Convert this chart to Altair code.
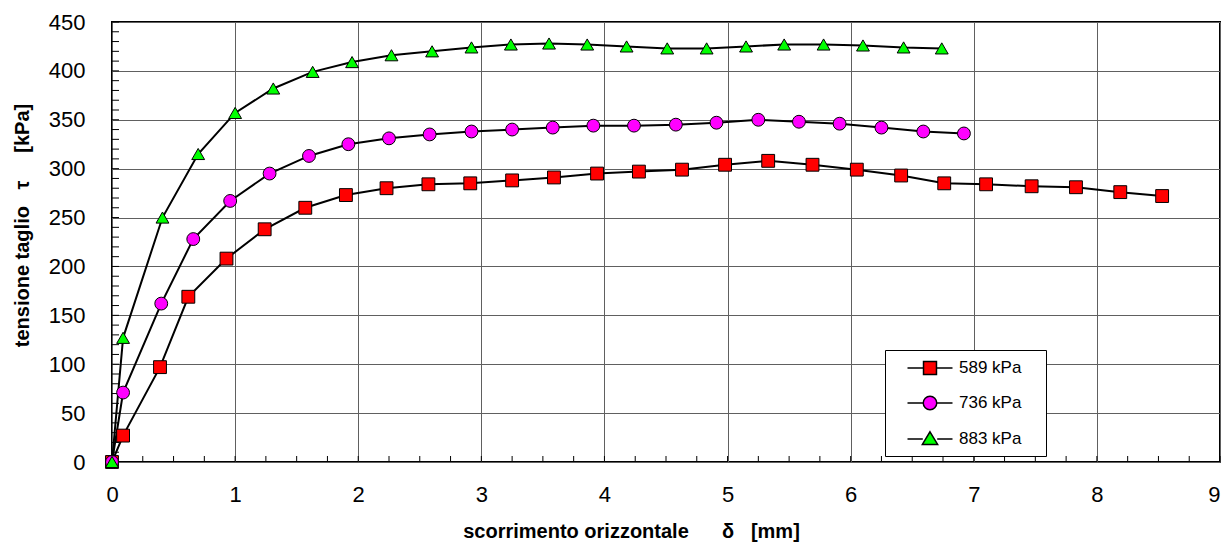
import altair as alt
import pandas as pd

series_names = ["589 kPa", "736 kPa", "883 kPa"]
fill_colors = ["#ff0000", "#ff00ff", "#00ff00"]
marker_shapes = ["square", "circle", "triangle-up"]
outline_colors = ["black", "black", "black"]

x_589 = [0, 0.09, 0.39, 0.62, 0.93, 1.24, 1.57, 1.90, 2.23, 2.57, 2.91, 3.25, 3.59, 3.94,
         4.28, 4.63, 4.98, 5.33, 5.69, 6.05, 6.41, 6.76, 7.10, 7.47, 7.83, 8.19, 8.53]
y_589 = [0, 27, 97, 169, 208, 238, 260, 273, 280, 284, 285, 288, 291, 295,
         297, 299, 304, 308, 304, 299, 293, 285, 284, 282, 281, 276, 272]

x_736 = [0, 0.09, 0.40, 0.66, 0.96, 1.28, 1.60, 1.92, 2.25, 2.58, 2.92, 3.25, 3.58, 3.91,
         4.24, 4.58, 4.91, 5.25, 5.58, 5.91, 6.25, 6.59, 6.92]
y_736 = [0, 71, 162, 228, 267, 295, 313, 325, 331, 335, 338, 340, 342, 344,
         344, 345, 347, 350, 348, 346, 342, 338, 336]

x_883 = [0, 0.09, 0.41, 0.70, 1.00, 1.31, 1.63, 1.95, 2.27, 2.60, 2.92, 3.24, 3.55, 3.86,
         4.18, 4.51, 4.83, 5.15, 5.46, 5.78, 6.10, 6.43, 6.74]
y_883 = [0, 127, 250, 315, 357, 382, 399, 409, 416, 420, 424, 427, 428, 427,
         425, 423, 423, 425, 427, 427, 426, 424, 423]

x_tick_labels = [0, 1, 2, 3, 4, 5, 6, 7, 8, 9]
y_tick_labels = [0, 50, 100, 150, 200, 250, 300, 350, 400, 450]
x_minor_ticks = [0, 0.25, 0.5, 0.75, 1, 1.25, 1.5, 1.75, 2, 2.25, 2.5, 2.75, 3, 3.25, 3.5, 3.75,
                 4, 4.25, 4.5, 4.75, 5, 5.25, 5.5, 5.75, 6, 6.25, 6.5, 6.75, 7, 7.25, 7.5, 7.75,
                 8, 8.25, 8.5, 8.75, 9]
y_minor_ticks = [0, 10, 20, 30, 40, 50, 60, 70, 80, 90, 100, 110, 120, 130, 140, 150, 160, 170,
                 180, 190, 200, 210, 220, 230, 240, 250, 260, 270, 280, 290, 300, 310, 320, 330,
                 340, 350, 360, 370, 380, 390, 400, 410, 420, 430, 440, 450]

NB = "\u00a0"
x_title = "scorrimento" + NB + "orizzontale" + NB * 6 + "δ" + NB * 3 + "[mm]"
y_title = "tensione" + NB + "taglio" + NB * 3 + "τ" + NB * 5 + "[kPa]"

rows = []
for name, xs, ys in [(series_names[0], x_589, y_589),
                     (series_names[1], x_736, y_736),
                     (series_names[2], x_883, y_883)]:
    for i, (a, b) in enumerate(zip(xs, ys)):
        rows.append({"series": name, "x": a, "y": b, "order": i})
df = pd.DataFrame(rows)

FONT = "Liberation Sans"

x_scale = alt.Scale(domain=[0, 9], nice=False, zero=False)
y_scale = alt.Scale(domain=[0, 450], nice=False)

X = alt.X("x:Q", scale=x_scale,
          axis=alt.Axis(values=x_tick_labels, title=x_title,
                        grid=True, ticks=False, domain=False, labelPadding=22,
                        labelFlush=False,
                        labelAlign=alt.condition("datum.value >= 9", alt.value("right"), alt.value("center")),
                        titlePadding=16, titleX=519, format="d"))
Y = alt.Y("y:Q", scale=y_scale,
          axis=alt.Axis(values=y_tick_labels, title=y_title,
                        grid=True, ticks=False, domain=False, labelPadding=27,
                        labelFlush=False, titlePadding=16, titleY=203, format="d"))

base = alt.Chart(df)

lines = base.mark_line(color="black", strokeWidth=2).encode(
    x=X, y=Y, detail="series:N", order="order:Q")

points = base.mark_point(filled=True, stroke="black", strokeWidth=1, opacity=1, size=165).encode(
    x=X, y=Y,
    fill=alt.Fill("series:N", scale=alt.Scale(domain=series_names, range=fill_colors), legend=None),
    shape=alt.Shape("series:N", scale=alt.Scale(domain=series_names, range=marker_shapes), legend=None),
)

legend_paths = [
    "M-2.5,0H-0.72M0.72,0H2.5M-0.72,-0.72H0.72V0.72H-0.72Z",
    "M-2.5,0H-0.75M0.75,0H2.5M-0.75,0A0.75,0.75,0,1,0,0.75,0A0.75,0.75,0,1,0,-0.75,0Z",
    "M-2.5,0H-0.8M0.8,0H2.5M0,-0.8L0.85,0.6H-0.85Z",
]
leg = alt.Legend(title="M", titleOrient="right", titleOpacity=0, titleFontSize=20,
                 titlePadding=0, orient="none", legendX=773, legendY=328,
                 strokeColor="black", fillColor="white", padding=8,
                 symbolSize=324, symbolStrokeWidth=1.5,
                 symbolOffset=27, labelOffset=19, labelFontSize=17, labelFont=FONT,
                 labelColor="black", rowPadding=15, symbolOpacity=1)
legend_layer = base.transform_filter("datum.x < -1").mark_point(
    filled=True, strokeWidth=1.5, opacity=1).encode(
    x=X, y=Y,
    fill=alt.Fill("series:N", scale=alt.Scale(domain=series_names, range=fill_colors), legend=leg),
    shape=alt.Shape("series:N", scale=alt.Scale(domain=series_names, range=legend_paths), legend=leg),
    stroke=alt.Stroke("series:N", scale=alt.Scale(domain=series_names, range=outline_colors), legend=leg),
)

xt_df = pd.DataFrame({"x": x_minor_ticks})
yt_df = pd.DataFrame({"y": y_minor_ticks})
x_ticks = alt.Chart(xt_df).mark_rule(color="black", strokeWidth=1).encode(
    x=X, y=alt.value(440), y2=alt.value(434))
y_ticks = alt.Chart(yt_df).mark_rule(color="black", strokeWidth=1).encode(
    y=Y, x=alt.value(0), x2=alt.value(7))

chart = alt.layer(x_ticks, y_ticks, lines, points, legend_layer).resolve_scale(
    fill="independent", shape="independent", stroke="independent"
).properties(
    width=1108, height=440,
    autosize=alt.AutoSizeParams(type="none"),
    padding={"left": 104, "top": 14, "right": 1, "bottom": 81},
).configure_view(
    stroke="black", strokeWidth=2
).configure_axis(
    labelFont=FONT, labelFontSize=22, labelColor="black",
    titleFont=FONT, titleFontSize=20, titleFontWeight="bold", titleColor="black",
    gridColor="#606060", gridWidth=1, gridOpacity=1,
)

chart.save("out.html", embed_options={"renderer": "svg", "actions": False})
